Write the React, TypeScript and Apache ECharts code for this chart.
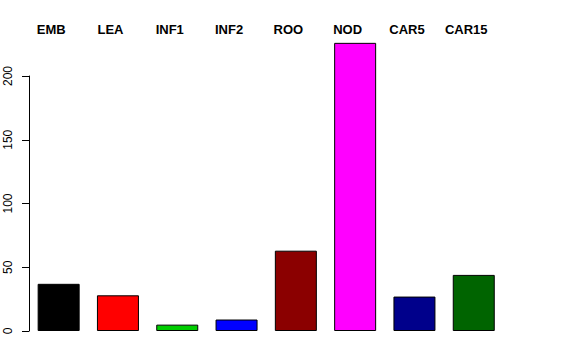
import React, { useEffect, useRef } from "react";
import * as echarts from "echarts";

const categories = ["EMB", "LEA", "INF1", "INF2", "ROO", "NOD", "CAR5", "CAR15"];
const values = [37, 28, 5, 9, 63, 226, 27, 44];
const barColors = ["#000000", "#FF0000", "#00CD00", "#0000FF", "#8B0000", "#FF00FF", "#00008B", "#006400"];
const yTicks = [0, 50, 100, 150, 200];

export default function App() {
  const ref = useRef<HTMLDivElement>(null);
  useEffect(() => {
    if (!ref.current) return;
    const chart = echarts.init(ref.current, undefined, { renderer: "svg" });
    chart.setOption({
      animation: false,
      backgroundColor: "#ffffff",
      textStyle: { fontFamily: "Liberation Sans" },
      grid: { left: 29, width: 474.4, top: 76, bottom: 29, containLabel: false },
      xAxis: {
        type: "category",
        position: "top",
        data: categories,
        axisLine: { show: false },
        axisTick: { show: false },
        splitLine: { show: false },
        axisLabel: {
          margin: 40,
          fontSize: 13,
          fontWeight: "bold",
          color: "#000000",
          fontFamily: "Liberation Sans",
          padding: [0, 15, 0, 0],
          interval: 0,
        },
      },
      yAxis: {
        type: "value",
        min: yTicks[0],
        max: yTicks[yTicks.length - 1],
        interval: 50,
        axisLine: { show: true, lineStyle: { color: "#000000", width: 1 } },
        axisTick: { show: true, length: 7, lineStyle: { color: "#000000" } },
        splitLine: { show: false },
        axisLabel: {
          rotate: 90,
          margin: 15,
          fontSize: 12,
          color: "#000000",
          fontFamily: "Liberation Sans",
        },
      },
      series: [
        {
          type: "bar",
          clip: false,
          barWidth: 42,
          data: values.map((v, i) => ({
            value: v,
            itemStyle: { color: barColors[i], borderColor: "#000000", borderWidth: 1 },
          })),
        },
      ],
    });
    return () => chart.dispose();
  }, []);
  return <div ref={ref} style={{ width: 576, height: 360, position: "absolute", left: 0, top: 0 }} />;
}
